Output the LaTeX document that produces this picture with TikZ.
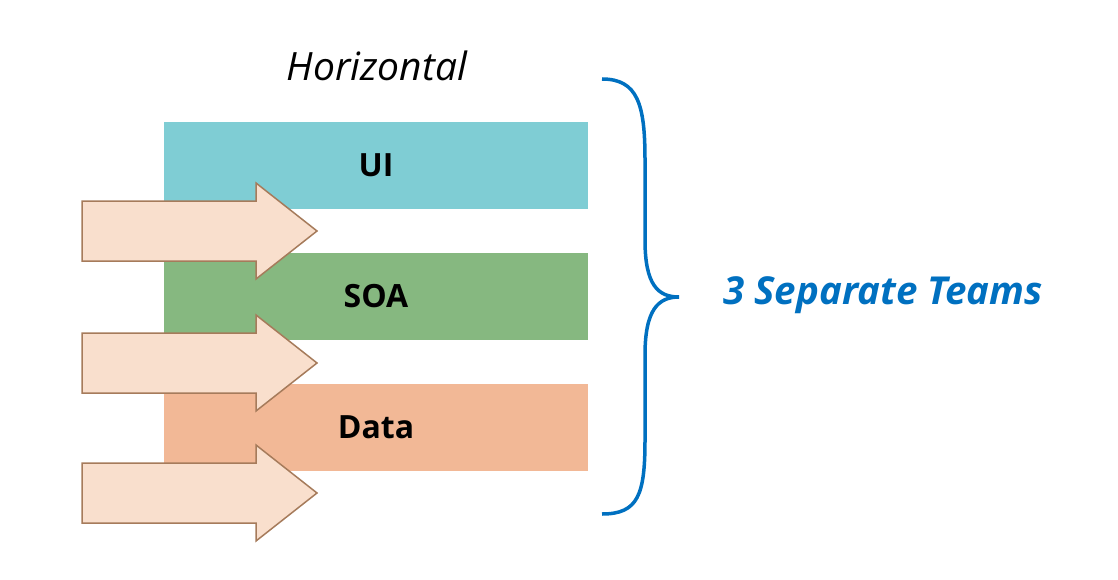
\documentclass[tikz,border=0pt]{standalone}
\usepackage{fontspec}
\setmainfont{Open Sans}
\definecolor{uicol}{HTML}{7FCDD4}
\definecolor{soacol}{HTML}{86B880}
\definecolor{datacol}{HTML}{F2B896}
\definecolor{arrfill}{HTML}{F9DFCD}
\definecolor{arrdraw}{HTML}{A67B5B}
\definecolor{braceblue}{HTML}{0070C0}
\begin{document}
\begin{tikzpicture}[x=1pt,y=-1pt,
  bar/.style={minimum width=424pt,minimum height=87pt,inner sep=0pt,anchor=center,font=\fontsize{32}{36}\selectfont\bfseries},
  bigarrow/.style={fill=arrfill,draw=arrdraw,line width=1.5pt,line join=miter},
  bracestyle/.style={draw=braceblue,line width=3.5pt},
  pics/fatarrow/.style={code={
    \path[bigarrow] (82,-30) -- (256,-30) -- (256,-48) -- (317,0) -- (256,48) -- (256,30) -- (82,30) -- cycle;
  }}]
\useasboundingbox (0,0) rectangle (1118,580);
\node[font=\fontsize{39}{44}\selectfont\itshape] (title) at (377,66) {Horizontal};
\node[bar,fill=uicol] (ui) at (376,165.5) {UI};
\node[bar,fill=soacol] (soa) at (376,296.5) {SOA};
\node[bar,fill=datacol] (data) at (376,427.5) {Data};
\pic at (0,231) {fatarrow};
\pic at (0,363) {fatarrow};
\pic at (0,493) {fatarrow};
\coordinate (btop) at (602,79);
\coordinate (btip) at (679,297);
\coordinate (bbot) at (602,514);
\draw[bracestyle] (btop) .. controls (638,79) and (645,105) .. (645,160) -- (645,240) .. controls (645,285) and (658,297) .. (btip)
  .. controls (658,297) and (645,310) .. (645,355) -- (645,440) .. controls (645,495) and (638,514) .. (bbot);
\node[font=\fontsize{38.5}{42}\selectfont\bfseries\itshape,text=braceblue,anchor=west,inner sep=0pt] (teams) at (723,295) {3 Separate Teams};
\end{tikzpicture}
\end{document}
